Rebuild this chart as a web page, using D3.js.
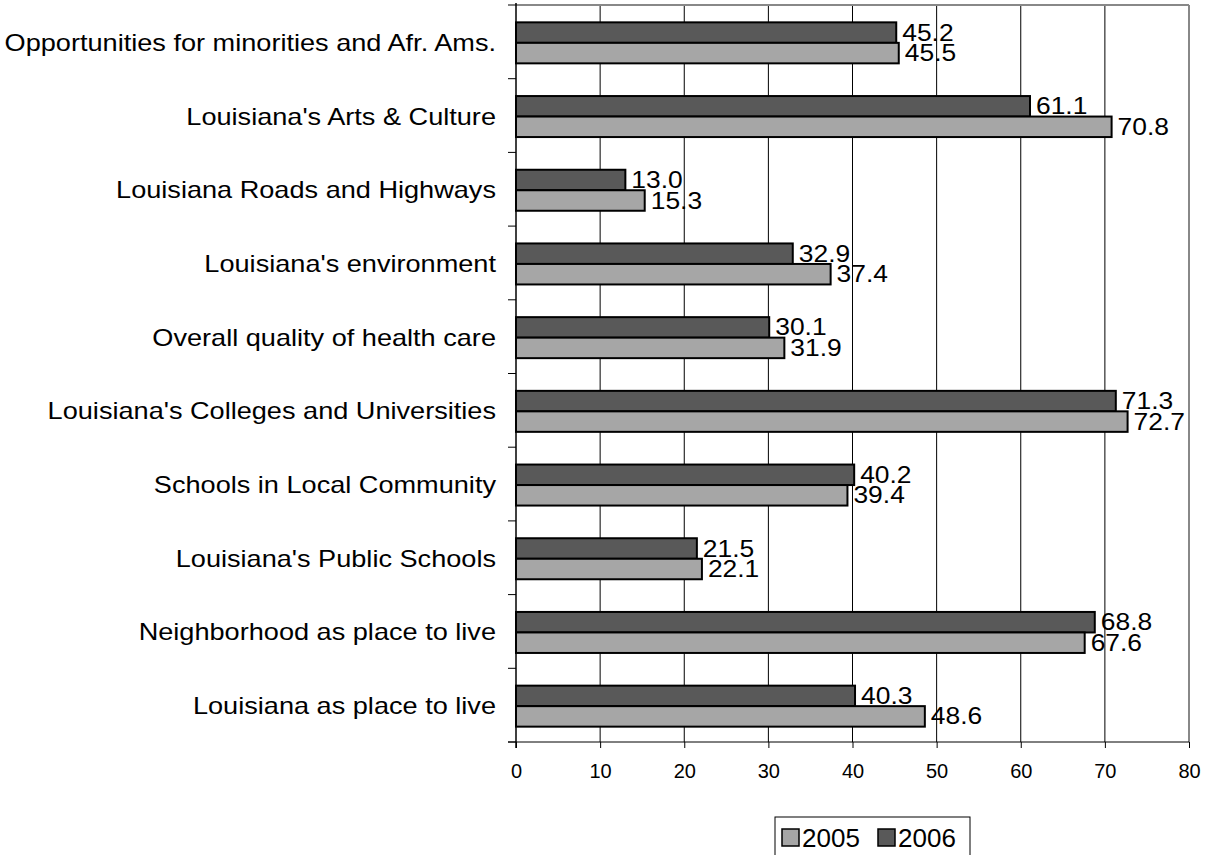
<!DOCTYPE html><html><head><script src="https://cdn.jsdelivr.net/npm/d3@7"></script>
<style>body{margin:0;background:#fff}text{font-family:"Liberation Sans",Arial,sans-serif}</style></head><body>
<svg width="1214" height="855"></svg>
<script>
const categories=["Opportunities for minorities and Afr. Ams.","Louisiana's Arts & Culture","Louisiana Roads and Highways","Louisiana's environment","Overall quality of health care","Louisiana's Colleges and Universities","Schools in Local Community","Louisiana's Public Schools","Neighborhood as place to live","Louisiana as place to live"];
const values2005=[45.5,70.8,15.3,37.4,31.9,72.7,39.4,22.1,67.6,48.6];
const values2006=[45.2,61.1,13.0,32.9,30.1,71.3,40.2,21.5,68.8,40.3];
const xTicks=[0,10,20,30,40,50,60,70,80];
const svg=d3.select("svg");
const L=516,R=1189,T=5,B=742;
const x=d3.scaleLinear().domain([0,80]).range([L,R]);
const y=d3.scaleBand().domain(categories).range([T,B]);
const bh=20.5;
const g=svg.append("g");
xTicks.slice(1).forEach(t=>g.append("line").attr("x1",x(t)).attr("x2",x(t)).attr("y1",T).attr("y2",B).attr("stroke",t==80?"#888":"#000").attr("stroke-width",t==80?2:1));
g.append("line").attr("x1",L).attr("x2",R).attr("y1",T).attr("y2",T).attr("stroke","#888").attr("stroke-width",2);
categories.forEach((c,i)=>{
 const cy=y(c)+y.bandwidth()/2+1;
 [[values2006[i],cy-bh,"#595959"],[values2005[i],cy,"#a6a6a6"]].forEach(([v,yy,col])=>{
  g.append("rect").attr("x",x(0)).attr("y",yy).attr("width",x(v)-x(0)).attr("height",bh).attr("fill",col).attr("stroke","#000").attr("stroke-width",2);
  const t=g.append("text").attr("x",x(v)+6).attr("y",yy+bh/2+8).style("font-size","24px").text(v.toFixed(1));
  t.attr("textLength",t.node().getComputedTextLength()*1.1).attr("lengthAdjust","spacingAndGlyphs");
 });
 const t=g.append("text").attr("x",496).attr("y",cy+8).attr("text-anchor","end").style("font-size","24px").text(c);
 const len=t.node().getComputedTextLength();
 t.attr("textLength",len*1.13).attr("lengthAdjust","spacingAndGlyphs");
});
const ax=g.append("g").attr("transform",`translate(0,${B})`).call(d3.axisBottom(x).tickValues(xTicks).tickSize(6).tickPadding(16));
ax.select(".domain").attr("d",`M${L-8},0H${R}`).attr("stroke","#000");
ax.selectAll("text").style("font-size","20px").style("font-family","Liberation Sans,Arial");
const yb=categories.map((c)=>y(c)).concat([B]);
g.append("line").attr("x1",L).attr("x2",L).attr("y1",T-2).attr("y2",B+6).attr("stroke","#000").attr("stroke-width",1.5);
yb.forEach(v=>g.append("line").attr("x1",L-8).attr("x2",L).attr("y1",v).attr("y2",v).attr("stroke","#000"));
const lg=svg.append("g");
lg.append("rect").attr("x",775).attr("y",817).attr("width",195).attr("height",40).attr("fill","#fff").attr("stroke","#000");
[["2005","#a6a6a6",782],["2006","#595959",878]].forEach(([t,c,xx])=>{
 lg.append("rect").attr("x",xx).attr("y",829).attr("width",17).attr("height",17).attr("fill",c).attr("stroke","#000").attr("stroke-width",1.5);
 lg.append("text").attr("x",xx+20).attr("y",847).style("font-size","26px").text(t);
});
</script></body></html>
